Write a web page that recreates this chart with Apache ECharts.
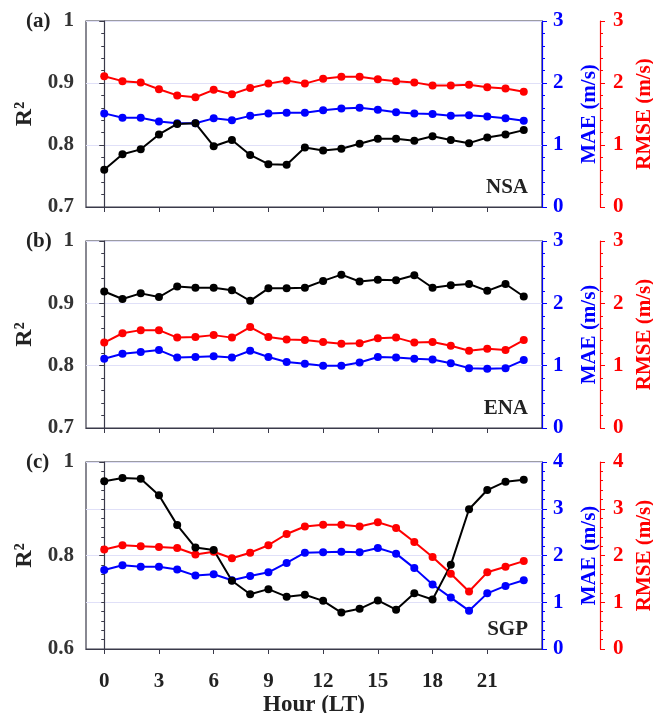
<!DOCTYPE html>
<html>
<head>
<meta charset="utf-8">
<script src="https://cdn.jsdelivr.net/npm/echarts@6/dist/echarts.min.js"></script>
<style>
  html, body { margin: 0; padding: 0; background: #fff; }
  #main { width: 653px; height: 713px; }
</style>
</head>
<body>
<div id="main"></div>
<script>
// hours of the day (LT)
var hours = [0,1,2,3,4,5,6,7,8,9,10,11,12,13,14,15,16,17,18,19,20,21,22,23];
var xTicks = [0,3,6,9,12,15,18,21];

// (a) NSA
var nsaR2   = [0.760,0.785,0.793,0.817,0.834,0.835,0.798,0.808,0.784,0.769,0.768,0.796,0.791,0.794,0.802,0.810,0.810,0.807,0.814,0.808,0.803,0.812,0.817,0.824];
var nsaMAE  = [1.51,1.44,1.44,1.38,1.35,1.35,1.43,1.40,1.47,1.51,1.52,1.52,1.56,1.59,1.60,1.57,1.53,1.51,1.50,1.47,1.48,1.46,1.43,1.39];
var nsaRMSE = [2.11,2.03,2.01,1.90,1.80,1.77,1.89,1.82,1.92,1.99,2.04,1.99,2.07,2.10,2.10,2.06,2.03,2.01,1.96,1.96,1.97,1.93,1.91,1.86];

// (b) ENA
var enaR2   = [0.919,0.907,0.916,0.910,0.927,0.925,0.925,0.921,0.904,0.924,0.924,0.925,0.936,0.946,0.935,0.938,0.937,0.945,0.925,0.929,0.931,0.920,0.931,0.911];
var enaMAE  = [1.11,1.19,1.22,1.25,1.13,1.14,1.15,1.13,1.24,1.14,1.06,1.03,1.00,1.00,1.05,1.14,1.13,1.11,1.10,1.04,0.96,0.95,0.96,1.09];
var enaRMSE = [1.37,1.52,1.57,1.57,1.45,1.46,1.49,1.45,1.62,1.46,1.42,1.41,1.38,1.35,1.36,1.44,1.45,1.37,1.38,1.32,1.24,1.27,1.25,1.41];

// (c) SGP
var sgpR2   = [0.959,0.966,0.964,0.929,0.865,0.817,0.812,0.746,0.717,0.728,0.712,0.716,0.703,0.678,0.686,0.704,0.684,0.719,0.706,0.780,0.899,0.940,0.958,0.962];
var sgpMAE  = [1.69,1.79,1.76,1.76,1.70,1.57,1.60,1.47,1.56,1.64,1.84,2.06,2.07,2.08,2.07,2.16,2.04,1.73,1.38,1.10,0.82,1.19,1.35,1.47];
var sgpRMSE = [2.13,2.22,2.20,2.18,2.16,2.02,2.08,1.94,2.06,2.22,2.46,2.62,2.66,2.66,2.62,2.71,2.59,2.29,1.97,1.61,1.23,1.64,1.76,1.88];

var panels = [
  { tag: '(a)', site: 'NSA', r2: nsaR2, mae: nsaMAE, rmse: nsaRMSE, r2Min: 0.7, r2Max: 1, r2Step: 0.1, r2Minor: 5, eMax: 3, top: 21, height: 186 },
  { tag: '(b)', site: 'ENA', r2: enaR2, mae: enaMAE, rmse: enaRMSE, r2Min: 0.7, r2Max: 1, r2Step: 0.1, r2Minor: 5, eMax: 3, top: 241, height: 187 },
  { tag: '(c)', site: 'SGP', r2: sgpR2, mae: sgpMAE, rmse: sgpRMSE, r2Min: 0.6, r2Max: 1, r2Step: 0.2, r2Minor: 10, eMax: 4, top: 462, height: 187 }
];

var FONT = '"Liberation Serif", "Times New Roman", serif';
var gridLeft = 86, gridRight = 111;

function pairs(vals) {
  return vals.map(function (v, i) { return [hours[i], v]; });
}

var option = {
  backgroundColor: '#fff',
  animation: false,
  textStyle: { fontFamily: FONT },
  title: [],
  grid: [], xAxis: [], yAxis: [], series: []
};

panels.forEach(function (p, k) {
  option.grid.push({
    left: gridLeft, right: gridRight, top: p.top, height: p.height,
    outerBoundsMode: 'none', containLabel: false,
    show: true, borderColor: '#3a3a4a', borderWidth: 1.2
  });
  var last = (k === panels.length - 1);
  option.xAxis.push({
    type: 'value', gridIndex: k, min: -1, max: 24,
    axisLine: { show: true, lineStyle: { color: '#3a3a4a', width: 1.2 } },
    axisTick: { show: true, length: 5, customValues: xTicks, lineStyle: { color: '#3a3a4a' } },
    axisLabel: { show: last, customValues: xTicks, color: '#222', fontSize: 21, fontWeight: 'bold', fontFamily: FONT, margin: 22 },
    splitLine: { show: false },
    name: last ? 'Hour (LT)' : '', nameLocation: 'middle', nameGap: 45,
    nameTextStyle: { color: '#222', fontSize: 23, fontWeight: 'bold', fontFamily: FONT }
  });
  // R2 axis
  option.yAxis.push({
    type: 'value', gridIndex: k, position: 'left', min: p.r2Min, max: p.r2Max, interval: p.r2Step,
    axisLine: { show: true, lineStyle: { color: '#3a3a4a', width: 1.2 } },
    axisTick: { show: true, length: 5, lineStyle: { color: '#3a3a4a' } },
    minorTick: { show: true, splitNumber: p.r2Minor, length: 3, lineStyle: { color: '#3a3a4a' } },
    axisLabel: { color: '#333', fontSize: 21, fontWeight: 'bold', fontFamily: FONT, margin: 12,
      formatter: function (v) { return v === 1 ? '1' : v.toFixed(1); } },
    splitLine: { show: false },
    name: 'R²', nameLocation: 'middle', nameGap: 39, nameRotate: 90,
    nameTextStyle: { color: '#222', fontSize: 24, fontWeight: 'bold', fontFamily: FONT }
  });
  // MAE axis
  option.yAxis.push({
    type: 'value', gridIndex: k, position: 'right', min: 0, max: p.eMax, interval: 1,
    axisLine: { show: true, lineStyle: { color: '#0000ff', width: 1.2 } },
    axisTick: { show: true, length: 5, lineStyle: { color: '#0000ff' } },
    minorTick: { show: true, splitNumber: 5, length: 3, lineStyle: { color: '#0000ff' } },
    axisLabel: { color: '#0000ff', fontSize: 21, fontWeight: 'bold', fontFamily: FONT, margin: 11 },
    splitLine: { show: true, lineStyle: { color: '#e0e0f8', width: 1.2 } },
    name: 'MAE (m/s)', nameLocation: 'middle', nameGap: 37, nameRotate: 90,
    nameTextStyle: { color: '#0000ff', fontSize: 21, fontWeight: 'bold', fontFamily: FONT }
  });
  // RMSE axis
  option.yAxis.push({
    type: 'value', gridIndex: k, position: 'right', offset: 58, min: 0, max: p.eMax, interval: 1,
    axisLine: { show: true, lineStyle: { color: '#ff0000', width: 1.2 } },
    axisTick: { show: true, length: 5, lineStyle: { color: '#ff0000' } },
    minorTick: { show: true, splitNumber: 5, length: 3, lineStyle: { color: '#ff0000' } },
    axisLabel: { color: '#ff0000', fontSize: 21, fontWeight: 'bold', fontFamily: FONT, margin: 13 },
    splitLine: { show: false },
    name: 'RMSE (m/s)', nameLocation: 'middle', nameGap: 34, nameRotate: 90,
    nameTextStyle: { color: '#ff0000', fontSize: 21, fontWeight: 'bold', fontFamily: FONT }
  });

  var lines = [
    { data: p.rmse, axis: 3 * k + 2, color: '#ff0000' },
    { data: p.mae, axis: 3 * k + 1, color: '#0000ff' },
    { data: p.r2, axis: 3 * k, color: '#000000' }
  ];
  lines.forEach(function (l) {
    option.series.push({
      type: 'line', xAxisIndex: k, yAxisIndex: l.axis, data: pairs(l.data),
      symbol: 'circle', symbolSize: 8,
      lineStyle: { color: l.color, width: 2 },
      itemStyle: { color: l.color }
    });
  });

  option.title.push({
    text: p.tag, left: 21, top: p.top - 15,
    textStyle: { color: '#222', fontSize: 21, fontWeight: 'bold', fontFamily: FONT }
  });
  option.title.push({
    text: p.site, right: 653 - 533, top: p.top + p.height - 35,
    textStyle: { color: '#222', fontSize: 21, fontWeight: 'bold', fontFamily: FONT }
  });
});

var chart = echarts.init(document.getElementById('main'));
chart.setOption(option);
</script>
</body>
</html>
